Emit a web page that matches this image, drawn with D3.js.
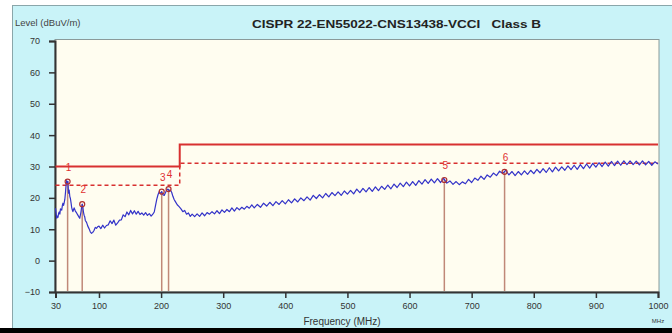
<!DOCTYPE html>
<html><head><meta charset="utf-8">
<script src="https://cdn.jsdelivr.net/npm/d3@7"></script>
<style>html,body{margin:0;padding:0;background:#fff;}svg{display:block;}</style>
</head><body>
<script>
// ---- data ----
const freqs = [30,31,32,33,34,35,36,37,38,40,41,42,43,44,45,46,47,48,49,50,51,52,53,54,55,56,57,58,60,62,64,66,68,69,71,72,73,74,75,76,77,78,80,82,84,86,88,90,92,94,96,98,100,103,106,109,112,115,118,121,124,127,130,133,136,139,142,145,148,151,154,157,160,163,166,169,172,175,178,181,184,187,189,191,193,195,197,199,201,203,205,207,209,211,213,215,217,219,221,223,226,229,232,235,238,241,244,247,250,254,258,262,266,270,274,278,282,286,290,294,298,302,306,310,314,318,322,326,330,334,338,342,346,350,355,360,365,370,375,380,385,390,395,400,405,410,415,420,425,430,435,440,445,450,455,460,465,470,475,480,485,490,495,500,505,510,515,520,525,530,535,540,545,550,555,560,565,570,575,580,585,590,595,600,605,610,615,620,625,630,635,640,645,650,655,660,665,670,675,680,685,690,695,700,705,710,715,720,725,730,735,740,745,750,755,760,765,770,775,780,785,790,795,800,805,810,815,820,825,830,835,840,845,850,855,860,865,870,875,880,885,890,895,900,905,910,915,920,925,930,935,940,945,950,955,960,965,970,975,980,985,990,995,1000];
const levels = [16.7,15,13.5,14.2,13.8,15.1,15.5,14.8,16.5,16.1,17.5,18.3,17.6,18.5,19.5,21.5,24,25.5,24.8,25.2,21.5,22.5,20.5,19.8,18.5,17,16.2,15.6,16.8,15.8,15.2,14.5,13.8,13.5,15.5,17,18,17.2,15.5,14.5,14,12.8,12.2,11,10.2,9.2,8.7,9,9.6,10.6,10.3,10.8,11,10.2,11.3,10.4,11.2,11.4,12.7,11.8,12.9,11.3,12,12.9,13,14.6,14,15.5,14.6,16,14.9,15.9,14.8,15.7,14.7,15.2,14.5,15.3,14.4,15,14.2,14.9,15.5,17.5,19.5,21,22,21.3,22,21,20.8,21.6,22.5,22.8,22.3,22.5,21.8,20.5,19.5,18.8,17.8,17.2,16.5,15.6,16,14.8,15.2,14.1,14.8,14,14.9,14.1,15.2,14.3,15.3,14.8,15.6,14.9,15.9,15,16.2,15.4,16.3,15.6,16.8,15.8,16.9,16.2,17,16.4,17.3,16.7,17.8,16.8,17.9,17,18.3,17.4,18.6,17.5,18.8,17.9,19.1,18.1,19.4,18.4,19.7,18.7,20,19.1,20.3,19.3,20.8,19.8,21,20,21.4,20.3,21.7,20.7,21.9,20.8,22.2,21.2,22.4,21.3,22.8,21.7,23,21.9,23.3,22.1,23.5,22.3,23.7,22.7,24.1,22.9,24.4,23.3,24.7,23.6,25,23.8,25.2,24,25.5,24.4,25.8,24.6,26,24.8,26.1,24.9,26.2,24.7,25.4,24.3,25.2,24.2,25.1,24.5,25.9,24.9,26.3,25.6,26.9,25.9,27.3,26.6,27.9,27.1,28.5,27.8,28.8,27.3,28.4,27.1,28.4,27.3,28.6,27.5,28.8,27.7,29.1,28,29.3,28.1,29.6,28.3,29.8,28.6,29.9,28.8,30.2,29,30.4,29.1,30.6,29.3,30.8,29.5,31,29.8,31.2,30,31.4,30.1,31.6,30.3,31.7,30.4,31.8,30.6,31.8,30.6,31.7,30.5,31.8,30.5,31.6,30.4,31.5,30.8];
const qpLimitFreq = [30,230,230,1000];
const qpLimit     = [30,30,37,37];
const marginFreq  = [30,230,230,1000];
const marginLine  = [24,24,31,31];
const markerIds    = ["1","2","3","4","5","6"];
const markerFreq   = [49.5,73,201,212,656,753];
const markerLevel  = [25.2,18,22,22.8,25.7,28.3];
const yTicks = [-10,0,10,20,30,40,50,60,70];
const xTicks = [30,100,200,300,400,500,600,700,800,900,1000];
const titleText = "CISPR 22-EN55022-CNS13438-VCCI   Class B";
const yLabel = "Level (dBuV/m)";
const xLabel = "Frequency (MHz)";

// ---- drawing ----
const W = 672, H = 333;
const svg = d3.select("body").append("svg").attr("width", W).attr("height", H);
const font = "'Liberation Sans', Arial, sans-serif";

svg.append("rect").attr("x",0).attr("y",0).attr("width",W).attr("height",H).attr("fill","#fff");
svg.append("rect").attr("x",12.5).attr("y",5.5).attr("width",W-12).attr("height",323)
  .attr("fill","#c9f3f8").attr("stroke","#8aa6aa").attr("stroke-width",1);
svg.append("rect").attr("x",0).attr("y",328).attr("width",W).attr("height",5).attr("fill","#000");

const x = d3.scaleLinear().domain([30,1000]).range([55.5,658]);
const y = d3.scaleLinear().domain([-10,70]).range([292,41]);

svg.append("rect").attr("x",55).attr("y",39.5).attr("width",604).attr("height",252.5)
  .attr("fill","#fffdf0").attr("stroke","#8a9a9a").attr("stroke-width",1);

// texts
svg.append("text").attr("x",15).attr("y",26).attr("font-family",font).attr("font-size",9.5)
  .attr("fill","#444").text(yLabel);
svg.append("text").attr("x",252).attr("y",27.5).attr("font-family",font)
  .attr("font-size",11.5).attr("font-weight","bold").attr("fill","#222")
  .attr("textLength",289).attr("lengthAdjust","spacingAndGlyphs").attr("xml:space","preserve").text(titleText);

// axes
const yAxis = d3.axisLeft(y).tickValues(yTicks).tickSize(6).tickPadding(9).tickFormat(d3.format("d"));
const gy = svg.append("g").attr("transform","translate(55,0)").call(yAxis);
const xAxis = d3.axisBottom(x).tickValues(xTicks).tickSize(6).tickPadding(5).tickFormat(d3.format("d"));
const gx = svg.append("g").attr("transform","translate(0,292)").call(xAxis);
[gx,gy].forEach(g=>{
  g.select(".domain").attr("stroke","#333").attr("stroke-width",2);
  g.selectAll(".tick line").attr("stroke","#333").attr("stroke-width",1.5);
  g.selectAll(".tick text").attr("font-family",font).attr("font-size",9).attr("fill","#333");
});
svg.append("text").attr("x",342).attr("y",325).attr("text-anchor","middle").attr("font-family",font)
  .attr("font-size",10).attr("fill","#333").text(xLabel);
svg.append("text").attr("x",x(1000)).attr("y",323).attr("text-anchor","middle").attr("font-family",font)
  .attr("font-size",6).attr("fill","#333").text("MHz");

// marker vertical lines
markerFreq.forEach((f,i)=>{
  svg.append("line").attr("x1",x(f)).attr("x2",x(f)).attr("y1",y(markerLevel[i])).attr("y2",291)
    .attr("stroke","#c08878").attr("stroke-width",1.5);
});

// limit lines
const line = d3.line().x(d=>x(d[0])).y(d=>y(d[1]));
svg.append("path").attr("d", line(qpLimitFreq.map((f,i)=>[f,qpLimit[i]])))
  .attr("fill","none").attr("stroke","#d83030").attr("stroke-width",2);
svg.append("path").attr("d", line(marginFreq.map((f,i)=>[f,marginLine[i]])))
  .attr("fill","none").attr("stroke","#d83030").attr("stroke-width",1.5).attr("stroke-dasharray","4,3");

// trace
svg.append("path").attr("d", line(freqs.map((f,i)=>[f,levels[i]])))
  .attr("fill","none").attr("stroke","#3333c8").attr("stroke-width",1.2).attr("stroke-linejoin","round");

// markers
markerFreq.forEach((f,i)=>{
  svg.append("circle").attr("cx",x(f)).attr("cy",y(markerLevel[i])).attr("r",2.5)
    .attr("fill","none").attr("stroke","#b03030").attr("stroke-width",1.2);
  svg.append("text").attr("x",x(f)+1).attr("y",y(markerLevel[i])-11).attr("text-anchor","middle")
    .attr("font-family",font).attr("font-size",10).attr("fill","#e03030").text(markerIds[i]);
});
</script>
</body></html>
